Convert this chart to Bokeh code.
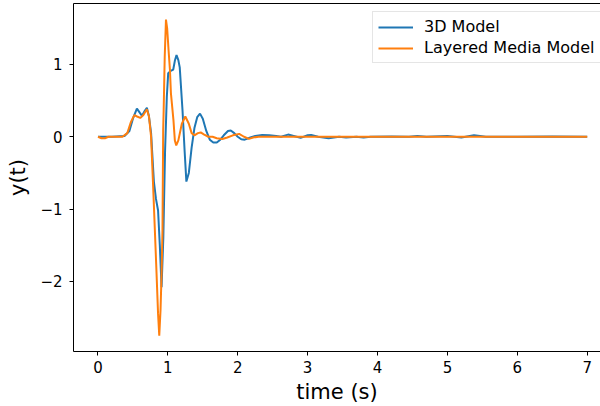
from bokeh.plotting import figure
from bokeh.models import LinearAxis, Range1d, FixedTicker, Legend, LegendItem
from bokeh.embed import file_html
from bokeh.resources import INLINE

# 3D Model series (time in s, response)
t_3d = [0.0, 0.2, 0.38, 0.45, 0.5, 0.557, 0.6, 0.63, 0.67, 0.70, 0.73, 0.76, 0.80, 0.83, 0.86,
        0.885, 0.91, 0.935, 0.96, 0.985, 1.005, 1.04, 1.077, 1.10, 1.124, 1.15, 1.17, 1.21, 1.24,
        1.265, 1.30, 1.34, 1.38, 1.42, 1.46, 1.50, 1.55, 1.60, 1.65, 1.70, 1.75, 1.80, 1.86, 1.90,
        1.95, 2.00, 2.05, 2.10, 2.18, 2.25, 2.35, 2.45, 2.55, 2.62, 2.72, 2.80, 2.90, 3.0, 3.05,
        3.15, 3.3, 3.45, 3.55, 3.7, 3.8, 3.9, 4.2, 4.45, 4.57, 4.7, 5.0, 5.2, 5.38, 5.55, 6.0,
        6.5, 7.0]
y_3d = [0.0, 0.0, 0.01, 0.08, 0.25, 0.39, 0.33, 0.29, 0.36, 0.40, 0.28, 0.05, -0.62, -0.86, -1.02,
        -1.5, -2.08, -1.4, -0.2, 0.55, 0.88, 0.91, 0.93, 1.05, 1.13, 1.06, 0.96, 0.36, -0.2,
        -0.62, -0.5, -0.15, 0.12, 0.27, 0.32, 0.25, 0.08, -0.04, -0.08, -0.08, -0.04, 0.02, 0.08, 0.087,
        0.05, 0.0, -0.035, -0.04, -0.01, 0.01, 0.025, 0.02, 0.01, 0.0, 0.03, 0.01, -0.015, 0.02, 0.025,
        0.0, -0.02, 0.0, -0.01, 0.0, -0.012, 0.0, 0.005, 0.0, 0.012, 0.0, 0.01, -0.01, 0.02, 0.0, 0.0,
        0.003, 0.0]

# Layered Media Model series
t_lm = [0.0, 0.05, 0.1, 0.15, 0.35, 0.42, 0.47, 0.52, 0.56, 0.605, 0.65, 0.70, 0.73, 0.76, 0.79,
        0.833, 0.86, 0.877, 0.895, 0.91, 0.923, 0.933, 0.94, 0.955, 0.973, 0.99, 1.01, 1.03, 1.044,
        1.08, 1.10, 1.12, 1.15, 1.2, 1.25, 1.3, 1.34, 1.38, 1.43, 1.47, 1.52, 1.58, 1.64, 1.7, 1.78,
        1.85, 1.93, 2.02, 2.09, 2.16, 2.22, 2.3, 3.0, 4.0, 5.0, 6.0, 7.0]
y_lm = [0.0, -0.02, -0.02, 0.0, 0.0, 0.05, 0.2, 0.30, 0.28, 0.26, 0.30, 0.38, 0.28, 0.0, -0.70,
        -1.76, -2.45, -2.75, -2.4, -1.9, -1.3, 0.09, 0.36, 1.1, 1.62, 1.5, 1.2, 0.92, 0.6,
        0.23, -0.05, -0.12, -0.05, 0.18, 0.28, 0.18, 0.05, 0.02, 0.05, 0.06, 0.03, 0.0, 0.0, -0.02, -0.03,
        -0.01, 0.02, 0.04, 0.0, -0.03, -0.01, 0.0, 0.0, 0.0, 0.0, 0.0, 0.0]

x_ticks = [0, 1, 2, 3, 4, 5, 6, 7]
y_ticks = [-2, -1, 0, 1]
y_tick_labels = {-2: "\u22122", -1: "\u22121", 0: "0", 1: "1"}
series_names = ["3D Model", "Layered Media Model"]
colors = ["#1f77b4", "#ff7f0e"]
x_title = "time (s)"
y_title = "y(t)"

FONT = "DejaVu Sans"

p = figure(width=600, height=406, output_backend="svg", toolbar_location=None,
           x_range=Range1d(-0.35, 7.19), y_range=Range1d(-2.97, 1.843),
           x_axis_location=None, y_axis_location=None,
           min_border_left=73, min_border_right=0, min_border_top=3, min_border_bottom=55)
p.outline_line_color = None
p.grid.visible = False
p.background_fill_color = "white"
p.border_fill_color = "white"

def style_axis(ax):
    ax.axis_line_color = "black"
    ax.axis_line_width = 1
    ax.major_tick_line_color = "black"
    ax.major_tick_in = 0
    ax.major_tick_out = 4
    ax.minor_tick_line_color = None
    ax.major_label_text_font = FONT
    ax.major_label_text_font_size = "15px"
    ax.major_label_text_color = "black"
    ax.axis_label_text_font = FONT
    ax.axis_label_text_font_size = "21px"
    ax.axis_label_text_font_style = "normal"
    ax.axis_label_text_color = "black"

xa = LinearAxis(ticker=FixedTicker(ticks=x_ticks), axis_label=x_title)
style_axis(xa)
xa.major_label_standoff = 5
xa.axis_label_standoff = 4
p.add_layout(xa, "below")

ya = LinearAxis(ticker=FixedTicker(ticks=y_ticks), axis_label=y_title,
                major_label_overrides=y_tick_labels)
style_axis(ya)
ya.major_label_standoff = 7
ya.axis_label_standoff = 7
p.add_layout(ya, "left")

ta = LinearAxis(ticker=FixedTicker(ticks=[]))
ta.axis_line_color = "black"
ta.major_tick_line_color = None
ta.minor_tick_line_color = None
ta.major_label_text_font_size = "0px"
ta.major_label_standoff = 0
p.add_layout(ta, "above")

r1 = p.line(t_3d, y_3d, line_color=colors[0], line_width=2)
r2 = p.line(t_lm, y_lm, line_color=colors[1], line_width=2)

legend = Legend(items=[LegendItem(label=series_names[0], renderers=[r1]),
                       LegendItem(label=series_names[1], renderers=[r2])],
                location=(299, 288))
legend.label_text_font = FONT
legend.label_text_font_size = "16px"
legend.label_text_color = "black"
legend.glyph_width = 35
legend.glyph_height = 18
legend.label_height = 18
legend.label_standoff = 11
legend.padding = 5
legend.spacing = 2
legend.margin = 0
legend.border_line_color = "#cccccc"
legend.border_line_width = 1
legend.background_fill_alpha = 0.8
p.add_layout(legend, "center")

open("out.html", "w").write(file_html(p, INLINE))
